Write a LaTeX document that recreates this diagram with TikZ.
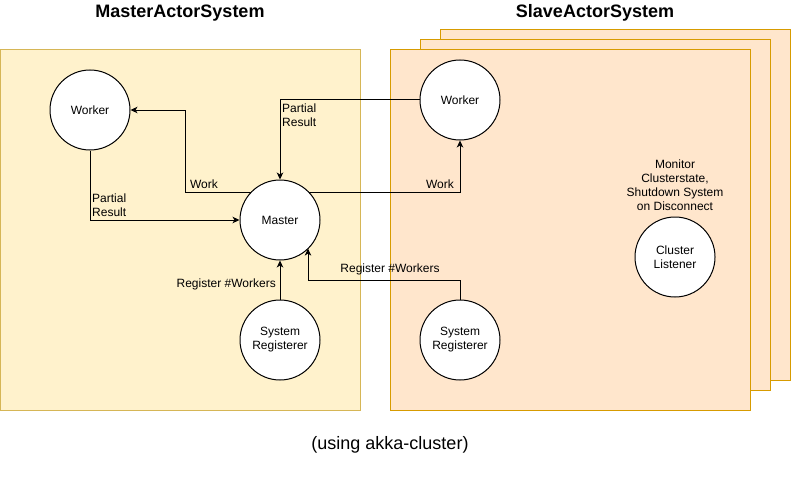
\documentclass[tikz,border=0pt]{standalone}
\usepackage{fontspec}
\setmainfont{Liberation Sans}
\usetikzlibrary{arrows.meta,calc}
\definecolor{mfill}{HTML}{FFF2CC}
\definecolor{mdraw}{HTML}{D6B656}
\definecolor{sfill}{HTML}{FFE6CC}
\definecolor{sdraw}{HTML}{D79B00}
\begin{document}
\begin{tikzpicture}[x=1pt,y=-1pt,
  actor/.style={circle,draw=black,fill=white,line width=1pt,minimum size=80pt,inner sep=0pt,align=center,font=\fontsize{12}{14}\selectfont},
  lbl/.style={inner sep=0pt,font=\fontsize{12}{14}\selectfont},
  title/.style={inner sep=0pt,font=\fontsize{18}{21}\selectfont\bfseries},
  conn/.style={draw=black,line width=1pt,-{Stealth[length=7pt,width=6.5pt,inset=2pt]}},
  mbox/.style={draw=mdraw,fill=mfill,line width=1pt},
  sbox/.style={draw=sdraw,fill=sfill,line width=1pt}]
\useasboundingbox (0,0) rectangle (791,492);
% containers
\path[mbox] (0.5,50) rectangle (360,410);
\path[sbox] (440,30) rectangle (790,380);
\path[sbox] (420,40) rectangle (770,390);
\path[sbox] (390,50) rectangle (750,410);
% titles
\node[title] (tm) at (180,13) {MasterActorSystem};
\node[title] (ts) at (595,13) {SlaveActorSystem};
\node[inner sep=0pt,font=\fontsize{18}{21}\selectfont] (foot) at (390,445) {(using akka-cluster)};
% actors
\node[actor] (w1) at (90,110) {Worker};
\node[actor] (m) at (280,220) {Master};
\node[actor] (w2) at (460,100) {Worker};
\node[actor] (r1) at (280,340) {System\\Registerer};
\node[actor] (r2) at (460,340) {System\\Registerer};
\node[actor] (cl) at (675,257) {Cluster\\Listener};
\node[lbl,align=center] (mon) at (675,185) {Monitor\\Clusterstate,\\Shutdown System\\on Disconnect};
% connectors
\coordinate (mw) at ($(m.center)+(-28.6,-28)$);
\coordinate (me) at ($(m.center)+(28.6,-28)$);
\coordinate (mse) at ($(m.center)+(28,28.6)$);
\draw[conn] (mw) -- (185,192) -- (185,110) -- (w1.east);
\draw[conn] (w1.south) -- (90,220) -- (m.west);
\draw[conn] (w2.west) -- (280,100) -- (m.north);
\draw[conn] (me) -- (460,192) -- (w2.south);
\draw[conn] (r1.north) -- (m.south);
\draw[conn] (r2.north) -- (460,280) -- (308,280) -- (mse);
% labels
\node[lbl] (lw1) at (204,184) {Work};
\node[lbl,anchor=west,align=left] (lp1) at (92,205) {Partial\\Result};
\node[lbl,anchor=west,align=left] (lp2) at (282,115) {Partial\\Result};
\node[lbl] (lw2) at (440,184) {Work};
\node[lbl,anchor=east] (lr1) at (276,284) {Register \#Workers};
\node[lbl] (lr2) at (390,269) {Register \#Workers};
\end{tikzpicture}
\end{document}
